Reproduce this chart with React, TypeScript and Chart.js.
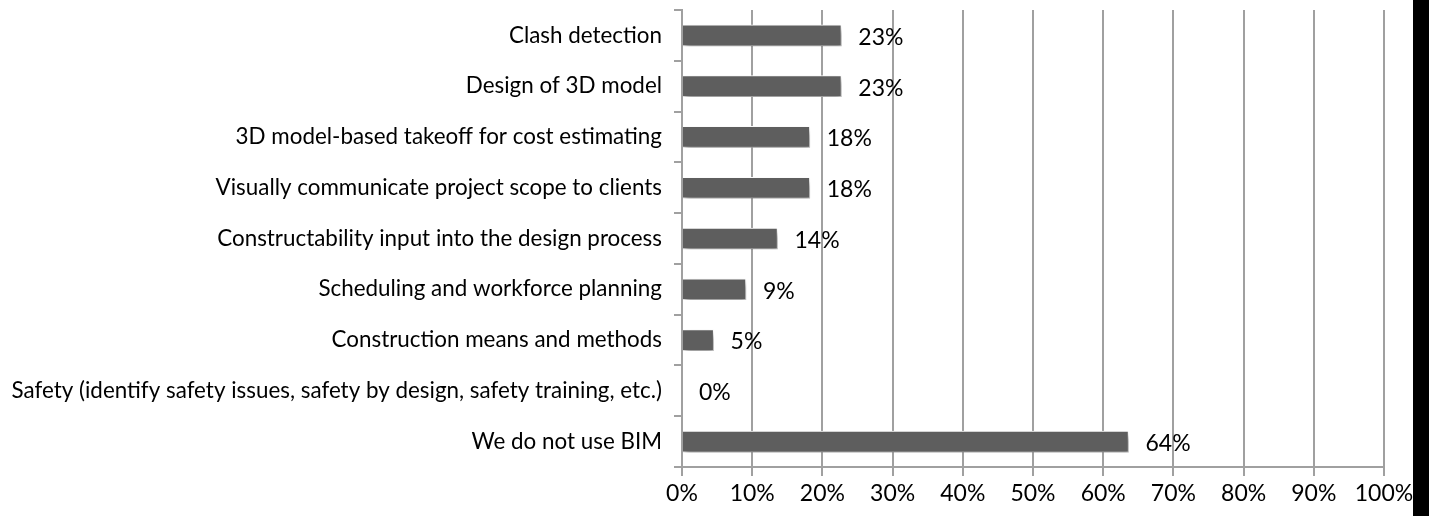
import React, { useEffect, useRef } from "react";
import { Chart, registerables } from "chart.js";

Chart.register(...registerables);

const categories = [
  "Clash detection",
  "Design of 3D model",
  "3D model-based takeoff for cost estimating",
  "Visually communicate project scope to clients",
  "Constructability input into the design process",
  "Scheduling and workforce planning",
  "Construction means and methods",
  "Safety (identify safety issues, safety by design, safety training, etc.)",
  "We do not use BIM",
];
const values = [22.7, 22.7, 18.2, 18.2, 13.6, 9.1, 4.5, 0, 63.6];
const valueLabels = ["23%", "23%", "18%", "18%", "14%", "9%", "5%", "0%", "64%"];
const xTicks = [0, 10, 20, 30, 40, 50, 60, 70, 80, 90, 100];

const FONT = "Lato, 'Liberation Sans', sans-serif";

export default function App() {
  const ref = useRef<HTMLCanvasElement | null>(null);
  useEffect(() => {
    if (!ref.current) return;
    const shadowPlugin = {
      id: "shadow",
      beforeDatasetDraw(chart: any) {
        const ctx = chart.ctx;
        ctx.save();
        ctx.shadowColor = "rgba(0,0,0,0.4)";
        ctx.shadowBlur = 6;
        ctx.shadowOffsetX = 2;
        ctx.shadowOffsetY = 5;
      },
      afterDatasetDraw(chart: any) {
        chart.ctx.restore();
      },
    };
    const labelPlugin = {
      id: "valueLabels",
      afterDatasetsDraw(chart: any) {
        const ctx = chart.ctx;
        const meta = chart.getDatasetMeta(0);
        ctx.save();
        ctx.font = `23px ${FONT}`;
        ctx.fillStyle = "#000";
        ctx.textAlign = "left";
        ctx.textBaseline = "middle";
        meta.data.forEach((bar: any, i: number) => {
          ctx.fillText(valueLabels[i], bar.x + 17, bar.y + 2);
        });
        ctx.restore();
      },
    };
    const stripePlugin = {
      id: "stripe",
      afterDraw(chart: any) {
        const ctx = chart.ctx;
        ctx.save();
        ctx.fillStyle = "#000";
        ctx.fillRect(1413, 0, 16, 516);
        ctx.restore();
      },
    };
    const chart = new Chart(ref.current, {
      type: "bar",
      data: {
        labels: categories,
        datasets: [
          {
            data: values,
            backgroundColor: "#5e5e5e",
            borderColor: "#ffffff",
            borderWidth: 1,
            barThickness: 21,
          },
        ],
      },
      options: {
        indexAxis: "y",
        animation: false,
        responsive: false,
        maintainAspectRatio: false,
        layout: { padding: { left: 0, top: 10, right: 45, bottom: 0 } },
        plugins: {
          legend: { display: false },
          tooltip: { enabled: false },
        },
        scales: {
          x: {
            min: 0,
            max: 100,
            afterFit(scale: any) {
              scale.height = 49;
              scale.paddingLeft = 0;
              scale.paddingRight = 0;
            },
            afterBuildTicks(scale: any) {
              scale.ticks = xTicks.map((v) => ({ value: v }));
            },
            ticks: {
              callback: (v: any) => `${v}%`,
              color: "#000",
              font: { family: FONT, size: 23 },
              padding: 4,
              maxRotation: 0,
              autoSkip: false,
            },
            grid: {
              color: "#a0a0a0",
              lineWidth: 2,
              tickLength: 9,
              drawOnChartArea: true,
            },
            border: { color: "#a0a0a0", width: 2 },
          },
          y: {
            afterFit(scale: any) {
              scale.width = 682;
              scale.paddingTop = 0;
              scale.paddingBottom = 0;
            },
            ticks: {
              color: "#000",
              font: { family: FONT, size: 22.4 },
              padding: 12,
              autoSkip: false,
            },
            grid: {
              color: "#a0a0a0",
              lineWidth: 2,
              tickLength: 8,
              drawOnChartArea: false,
              offset: true,
            },
            border: { color: "#a0a0a0", width: 2 },
          },
        },
      },
      plugins: [shadowPlugin, labelPlugin, stripePlugin],
    });
    return () => chart.destroy();
  }, []);
  return (
    <div style={{ position: "absolute", left: 0, top: 0, width: 1429, height: 516, background: "#fff" }}>
      <canvas ref={ref} width={1429} height={516} style={{ display: "block" }} />
    </div>
  );
}
